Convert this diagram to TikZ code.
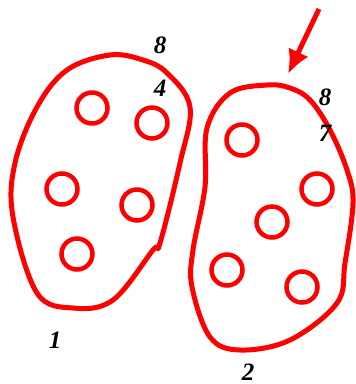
\documentclass[tikz,border=0pt]{standalone}
\usepackage{fontspec}
\setmainfont{Liberation Serif}
\usetikzlibrary{arrows.meta}
\definecolor{blobred}{HTML}{FF0000}

\begin{document}
\begin{tikzpicture}[x=1pt,y=-1pt,
 every node/.style={font=\fontsize{25}{25}\selectfont\bfseries\itshape},
 blob/.style={draw=blobred,line width=5pt,line join=round},
 cell/.style={circle,draw=blobred,line width=4.5pt,minimum size=31pt,inner sep=0pt},
 arr/.style={-{Latex[length=24pt,width=22pt]},line width=5pt,draw=blobred}]
\useasboundingbox (0,0) rectangle (356,384);
% left cluster
\draw[blob] plot[smooth cycle,tension=0.6] coordinates {(110,55) (143,60) (167,73) (190,107) (180,163) (160,243) (153,250) (113,300) (73,308) (37,293) (13,217) (15,163) (37,107) (67,70)};
\node[cell] (a1) at (92,108) {}; \node[cell] (a2) at (152,123) {};
\node[cell] (a3) at (62,189) {}; \node[cell] (a4) at (137,205) {};
\node[cell] (a5) at (77,254) {};
% right cluster
\draw[blob] plot[smooth cycle,tension=0.6] coordinates {(267,85) (290,88) (310,100) (330,130) (347,170) (353,203) (345,263) (337,303) (290,340) (240,350) (210,337) (192,287) (193,250) (205,187) (207,128) (230,93)};
\node[cell] (b1) at (242,140) {}; \node[cell] (b2) at (317,189) {};
\node[cell] (b3) at (272,222) {}; \node[cell] (b4) at (227,270) {};
\node[cell] (b5) at (302,287) {};
% labels
\node (topA) at (160,45) {8}; \node (midA) at (160,88) {4};
\node (topB) at (325,97) {8}; \node (midB) at (325,133) {7};
\node (numA) at (55,340) {1}; \node (numB) at (248,372) {2};
% arrow
\coordinate (from) at (319,9); \coordinate (to) at (288,74);
\draw[arr] (from)--(to);
\end{tikzpicture}
\end{document}
